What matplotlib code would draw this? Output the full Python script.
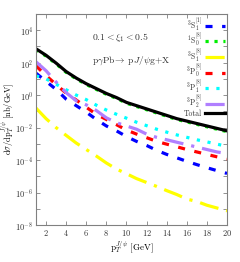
import matplotlib
matplotlib.use("Agg")
import matplotlib.pyplot as plt
import numpy as np
from matplotlib.ticker import FixedLocator, FuncFormatter

plt.rcParams['mathtext.fontset'] = 'cm'
plt.rcParams['font.family'] = ['serif']
plt.rcParams['font.serif'] = ['cmr10', 'DejaVu Serif']
plt.rcParams['axes.formatter.use_mathtext'] = True

pt = [1, 2, 3, 4, 5, 6, 7, 8, 9, 10, 11, 12, 13, 14, 15, 16, 17, 18, 19, 20]

# log10 of d sigma / dpT [nb/GeV]
log_3S1_1 = [1.35, 0.85, 0.35, -0.25, -0.65, -1.05, -1.5, -1.9, -2.2, -2.55,
             -2.85, -3.1, -3.4, -3.65, -3.86, -4.08, -4.28, -4.47, -4.65, -4.82]
log_1S0_8 = [2.8, 2.4, 1.92, 1.4, 1.0, 0.65, 0.35, 0.05, -0.2, -0.5,
             -0.7, -0.9, -1.1, -1.3, -1.5, -1.65, -1.8, -1.95, -2.1, -2.25]
log_3S1_8 = [-0.8, -1.45, -2.0, -2.48, -2.95, -3.35, -3.75, -4.18, -4.55, -4.84,
             -5.14, -5.38, -5.62, -5.88, -6.12, -6.4, -6.55, -6.78, -6.95, -7.12]
log_3P0_8 = [1.8, 1.2, 0.65, 0.12, -0.3, -0.75, -1.18, -1.5, -1.82, -2.15,
             -2.4, -2.62, -2.85, -3.02, -3.18, -3.35, -3.5, -3.65, -3.8, -3.93]
log_3P1_8 = [1.18, 1.0, 0.67, 0.33, 0.0, -0.28, -0.62, -0.92, -1.18, -1.42,
             -1.67, -1.88, -2.1, -2.28, -2.45, -2.6, -2.75, -2.88, -3.02, -3.15]
log_3P2_8 = [2.05, 1.5, 0.8, 0.15, -0.35, -0.6, -0.95, -1.4, -1.7, -1.9,
             -2.1, -2.4, -2.6, -2.75, -2.9, -3.05, -3.2, -3.35, -3.5, -3.6]
log_total = [2.85, 2.45, 1.97, 1.45, 1.05, 0.7, 0.4, 0.1, -0.15, -0.45,
             -0.65, -0.85, -1.05, -1.25, -1.45, -1.6, -1.75, -1.9, -2.05, -2.2]

labels = [r'$^3\mathrm{S}_1^{[1]}$', r'$^1\mathrm{S}_0^{[8]}$', r'$^3\mathrm{S}_1^{[8]}$',
          r'$^3\mathrm{P}_0^{[8]}$', r'$^3\mathrm{P}_1^{[8]}$', r'$^3\mathrm{P}_2^{[8]}$', 'Total']

series = [log_3S1_1, log_1S0_8, log_3S1_8, log_3P0_8, log_3P1_8, log_3P2_8, log_total]
colors = ['#0000ff', '#00ee00', '#ffff00', '#ff0000', '#00ffff', '#b07fff', '#000000']
styles = [(0, (2.2, 3.0)), (0, (1.0, 1.8)), (0, (6, 2.5, 1, 2.5)), (0, (2.2, 3.0)),
          (0, (1.0, 2.4)), (0, (6, 2.5, 1, 2.5)), '-']
widths = [2.3, 2.3, 2.3, 2.3, 2.3, 2.3, 2.3]

fig = plt.figure(figsize=(2.40, 2.62), dpi=100)
ax = fig.add_axes([0.15, 0.141, 0.796, 0.806])

for vals, c, ls, lw, lab in zip(series, colors, styles, widths, labels):
    ax.plot(pt, 10.0 ** np.array(vals), color=c, linestyle=ls, linewidth=lw, label=lab)

ax.set_yscale('log')
ax.set_xlim(1, 20)
ax.set_ylim(1e-8, 1e5)

ax.xaxis.set_major_locator(FixedLocator([2, 4, 6, 8, 10, 12, 14, 16, 18, 20]))
ax.xaxis.set_major_formatter(FuncFormatter(lambda v, p: r'$%d$' % v))
ax.yaxis.set_major_locator(FixedLocator([10.0 ** k for k in range(-8, 5)]))
ax.yaxis.set_minor_locator(FixedLocator([]))
ax.yaxis.set_major_formatter(FuncFormatter(
    lambda v, p: (r'$10^{%d}$' % round(np.log10(v))) if round(np.log10(v)) % 2 == 0 else ''))

gray = '#808080'
for s in ax.spines.values():
    s.set_color(gray)
    s.set_linewidth(0.8)
ax.tick_params(which='both', direction='in', top=True, right=True, color=gray,
               labelsize=6, labelcolor='#333333', length=3, width=0.6, pad=2)

ax.set_xlabel(r'$\mathrm{p}_T^{J/\psi}$ [GeV]', fontsize=6.5, labelpad=1)
ax.set_ylabel(r'$\mathrm{d}\sigma/\mathrm{dp}_T^{J/\psi}$ [nb/GeV]', fontsize=6, labelpad=0)
ax.yaxis.set_label_coords(-0.105, 0.5)

ax.text(0.295, 0.875, r'$0.1 < \xi_1 < 0.5$', transform=ax.transAxes, fontsize=7, color='#333333')
ax.text(0.295, 0.77, r'$\mathrm{p}\gamma\mathrm{Pb}\!\rightarrow\ \mathrm{p}J/\psi\mathrm{g}\!+\!\mathrm{X}$',
        transform=ax.transAxes, fontsize=6.8, color='#333333')

leg = ax.legend(loc='upper right', frameon=False, fontsize=5.5, markerfirst=False,
                handlelength=2.6, handletextpad=0.4, labelspacing=-0.1,
                borderaxespad=0.15, borderpad=0.15)
for t in leg.get_texts():
    t.set_color('#333333')

fig.savefig('out.png', dpi=100)
